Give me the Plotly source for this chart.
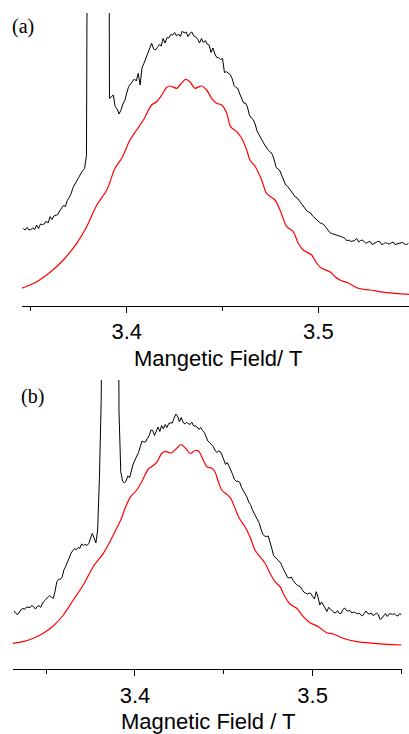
import plotly.graph_objects as go

# ---------------- data ----------------
# Panel (a): experimental spectrum sampled every 1 mT starting at 3.346 T
field_a_start = 3.346
field_step = 0.001
black_a = [77.0, 75.5, 78, 75.5, 76, 77.5, 76, 80.5, 77, 81.5,
           81, 81.5, 84.5, 82.5, 88.8, 86, 89.5, 90, 91, 94.5,
           97, 100, 99, 105, 108, 112, 118, 122.2, 124.8, 128.2,
           132, 135, 136.8, 150, 700, 1100, 1400, 1600, 1700, 1750,
           1700, 1600, 1400, 1200, 1000, 207, 208.8, 210.5, 198.8, 196.5,
           191.5, 195.5, 201.5, 205, 212.5, 219, 221.5, 223.8, 226.5, 224.5,
           232.2, 220.5, 238, 242.2, 247.2, 253.5, 258.5, 262.2, 256.5, 255.5,
           258, 261, 259.5, 267, 262.5, 268, 267.5, 271, 270.5, 273,
           269.5, 271.5, 269, 274.5, 272.5, 273.5, 269, 272.2, 273.5, 269.5,
           268.5, 266.5, 262.5, 267, 263, 265, 261.5, 260.5, 253, 257.5,
           251.5, 248, 248, 246, 247, 233, 233.8, 232.5, 231, 227,
           220, 218, 217, 211.5, 206.5, 202.5, 202.5, 198.5, 190.5, 187.5,
           186, 181.5, 174.5, 170.5, 167.5, 164, 160.5, 157.5, 155, 153.5,
           151, 145.5, 138, 136.5, 134.5, 129.5, 124.5, 120.5, 119, 116.5,
           113.5, 110.5, 108.5, 107.5, 105, 102.5, 99.5, 97, 94.5, 93.5,
           92.5, 89.5, 87.5, 85.5, 83.5, 82.5, 82, 80.5, 78, 75.5,
           73, 72, 71.5, 71, 70.5, 69.5, 68.8, 68, 67, 64.5,
           65.5, 64, 64.5, 65, 67, 63.5, 65, 65.5, 63.5, 62.2,
           63.5, 64, 61, 62, 63.5, 64, 64, 61, 61.5, 63,
           62, 61.5, 62.5, 63.5, 61, 61.5, 62.5, 63, 63, 61.5,
           61, 62.2]

# Panel (a): simulated spectrum
red_a_field = [3.3452, 3.3531, 3.3600, 3.3669, 3.3739, 3.3791, 3.3844, 3.3896, 3.3939, 3.3974,
               3.4017, 3.4052, 3.4087, 3.4130, 3.4156, 3.4183, 3.4209, 3.4226, 3.4261, 3.4278,
               3.4307, 3.4330, 3.4356, 3.4391, 3.4417, 3.4443, 3.4469, 3.4496, 3.4522, 3.4542,
               3.4574, 3.4600, 3.4626, 3.4643, 3.4669, 3.4704, 3.4730, 3.4774, 3.4800, 3.4835,
               3.4869, 3.4895, 3.4921, 3.4965, 3.4987, 3.5017, 3.5060, 3.5087, 3.5113, 3.5156,
               3.5208, 3.5269, 3.5356, 3.5473]
red_a = [17.2, 23.8, 33.2, 45.5, 62.2, 78.8, 100.5, 115.5, 137.2, 147.2,
         165.5, 175.5, 185.5, 200.5, 203.8, 210.5, 218.2, 219.5, 217.2, 220.5,
         226.2, 223.8, 217.2, 219.5, 215.5, 207.2, 202.2, 200.5, 192.2, 178.8,
         173.8, 167.2, 155.5, 145.5, 139.5, 125.5, 112.2, 105.5, 95.5, 78.8,
         73.8, 62.2, 55.5, 50.5, 43.5, 37.2, 33.8, 28.8, 25.5, 22.5,
         17.2, 15.5, 12.8, 11.2]

# Panel (b): experimental spectrum sampled every 1 mT starting at 3.332 T
field_b_start = 3.332
black_b = [58.3, 55.8, 54.8, 57.8, 59.8, 60.8, 60, 62.3, 62, 61.8,
           64, 62.3, 60.3, 62.8, 63.5, 62, 66.3, 68.5, 70.3, 71.6,
           73.8, 72, 71, 77.6, 87.3, 90, 90, 92.3, 99.3, 102.8,
           107.3, 110.8, 116, 118.6, 120.6, 119.6, 121.8, 121, 125.3, 123.8,
           125, 123.8, 125.8, 131.3, 135.8, 131.3, 126.3, 139.3, 191, 269,
           600, 900, 1200, 1400, 1500, 1400, 1200, 1000, 800, 259,
           197.6, 188.3, 186.3, 188.3, 193.3, 191.8, 199.8, 205.3, 209.3, 212.6,
           216.8, 222.8, 228.3, 227.3, 227.3, 231, 233.8, 239.3, 238.8, 233.8,
           238.3, 242.3, 237.8, 243.8, 240.3, 244.8, 241.8, 245.8, 246.3, 246.3,
           251, 255.3, 253, 247.6, 251.8, 247.3, 245.3, 246.8, 245.8, 244.8,
           247, 243.3, 243.3, 242.3, 239.8, 241.8, 238.8, 236.8, 232.8, 228.3,
           226.8, 224.8, 222.8, 219.3, 216.8, 218.3, 217.8, 214.3, 209.8, 204.8,
           206.8, 203.3, 199.3, 194.8, 189.8, 188, 188.1, 186.8, 181.8, 178.8,
           175.8, 172.3, 167.3, 164.8, 159.8, 156.3, 152.8, 149.1, 145.8, 139.8,
           135, 133.1, 132.8, 133.3, 127.8, 120.8, 113.8, 111.8, 110.4, 108.8,
           106.3, 102.1, 98, 94.7, 91.6, 91.5, 92.3, 88.8, 86.3, 84.5,
           83.5, 82.6, 79.8, 77.3, 76.3, 75.3, 76.3, 75.8, 72.8, 70.3,
           77.6, 72.3, 64.3, 67.3, 64.3, 60.3, 57.8, 62, 59.8, 58.3,
           56.8, 56.5, 58.6, 55.8, 55.8, 59.8, 61.3, 58.8, 58.3, 58.8,
           56.3, 57.1, 56.8, 55.3, 56.3, 54.8, 53.3, 55.8, 58.3, 55.8,
           55.3, 56.3, 53.8, 54.8, 56.3, 54.3, 49.8, 51.3, 53.3, 55.8,
           52.8, 55.3, 55.5, 54.8, 55.8, 53.8, 53.3, 55.8, 54.3]

# Panel (b): simulated spectrum
red_b_field = [3.3312, 3.3371, 3.3428, 3.3484, 3.3540, 3.3597, 3.3653, 3.3709, 3.3765, 3.3822,
               3.3859, 3.3897, 3.3925, 3.3944, 3.3976, 3.4010, 3.4043, 3.4075, 3.4094, 3.4122,
               3.4150, 3.4169, 3.4203, 3.4231, 3.4259, 3.4284, 3.4310, 3.4340, 3.4360, 3.4384,
               3.4404, 3.4432, 3.4450, 3.4469, 3.4488, 3.4516, 3.4539, 3.4563, 3.4588, 3.4619,
               3.4647, 3.4675, 3.4703, 3.4732, 3.4760, 3.4788, 3.4816, 3.4844, 3.4872, 3.4910,
               3.4947, 3.4985, 3.5032, 3.5079, 3.5116, 3.5172, 3.5248, 3.5341, 3.5501]
red_b = [26, 27.6, 31, 36, 43.3, 54.3, 69.3, 84.3, 102.6, 116,
         127.6, 141, 151.3, 161, 172.6, 179.3, 189.3, 200.3, 202.6, 207,
         215.8, 218, 216.3, 220.3, 224.8, 221.3, 215.8, 218.8, 217.8, 209.3,
         202.6, 201, 197.6, 187.6, 179.3, 175, 171, 161, 150.8, 142.6,
         132.6, 119.3, 112.6, 106, 96, 87.6, 82.6, 72.6, 65.3, 61,
         52.6, 46.6, 42.6, 36.6, 35.3, 31, 27.6, 26, 24.3]

x_range_a = [3.3452, 3.5473]
x_range_b = [3.3312, 3.5501]
y_range_a = [0, 292.5]
y_range_b = [0, 289.3]
title_a = "Mangetic Field/ T"
title_b = "Magnetic Field / T"

# ---------------- figure ----------------
W, H = 409, 734
fig = go.Figure()

fig.add_trace(go.Scatter(y=black_a, x0=field_a_start, dx=field_step, mode="lines",
                         line=dict(color="black", width=1), xaxis="x", yaxis="y",
                         showlegend=False, hoverinfo="skip"))
fig.add_trace(go.Scatter(x=red_a_field, y=red_a, mode="lines",
                         line=dict(color="#ff0000", width=1.2, shape="spline", smoothing=0.8),
                         xaxis="x", yaxis="y", showlegend=False, hoverinfo="skip"))
fig.add_trace(go.Scatter(y=black_b, x0=field_b_start, dx=field_step, mode="lines",
                         line=dict(color="black", width=1), xaxis="x2", yaxis="y2",
                         showlegend=False, hoverinfo="skip"))
fig.add_trace(go.Scatter(x=red_b_field, y=red_b, mode="lines",
                         line=dict(color="#ff0000", width=1.2, shape="spline", smoothing=0.8),
                         xaxis="x2", yaxis="y2", showlegend=False, hoverinfo="skip"))

tick_font = dict(family="Liberation Sans, Arial, sans-serif", size=22, color="black")

def xaxis_style(domain, rng, anchor):
    return dict(domain=domain, range=rng, anchor=anchor,
                showline=True, linecolor="black", linewidth=1,
                showgrid=False, zeroline=False,
                ticks="outside", ticklen=6, tickwidth=1, tickcolor="black",
                tick0=3.3, dtick=0.1, tickformat=".1f", tickfont=tick_font,
                minor=dict(ticks="outside", ticklen=4, tickwidth=1, tickcolor="black",
                           dtick=0.05, tick0=3.35, showgrid=False),
                automargin=False, fixedrange=True)

def yaxis_style(domain, rng, anchor):
    return dict(domain=domain, range=rng, anchor=anchor, visible=False,
                showgrid=False, zeroline=False, fixedrange=True)

fig.update_layout(
    width=W, height=H,
    margin=dict(l=0, r=0, t=0, b=0, pad=0),
    paper_bgcolor="white", plot_bgcolor="white",
    xaxis=xaxis_style([21.7 / W, 1.0], x_range_a, "y"),
    yaxis=yaxis_style([(H - 305.5) / H, (H - 13) / H], y_range_a, "x"),
    xaxis2=xaxis_style([12.7 / W, 401.7 / W], x_range_b, "y2"),
    yaxis2=yaxis_style([(H - 669.3) / H, (H - 380) / H], y_range_b, "x2"),
    showlegend=False,
)

ann_font = dict(family="Liberation Sans, Arial, sans-serif", size=22, color="black")
lab_font = dict(family="Liberation Serif, Times New Roman, serif", size=20, color="black")
fig.add_annotation(text=title_a, xref="paper", yref="paper", x=217.5 / W, y=(H - 358.5) / H,
                   xanchor="center", yanchor="middle", showarrow=False, font=ann_font)
fig.add_annotation(text=title_b, xref="paper", yref="paper", x=207.5 / W, y=(H - 721) / H,
                   xanchor="center", yanchor="middle", showarrow=False, font=ann_font)
fig.add_annotation(text="(a)", xref="paper", yref="paper", x=23.3 / W, y=(H - 26.7) / H,
                   xanchor="center", yanchor="middle", showarrow=False, font=lab_font)
fig.add_annotation(text="(b)", xref="paper", yref="paper", x=32.5 / W, y=(H - 396.7) / H,
                   xanchor="center", yanchor="middle", showarrow=False, font=lab_font)

fig.write_html(
    "out.html",
    config={"displayModeBar": False},
    post_script="document.body.style.margin='0';document.body.style.padding='0';"
                "document.documentElement.style.overflow='hidden';",
)
